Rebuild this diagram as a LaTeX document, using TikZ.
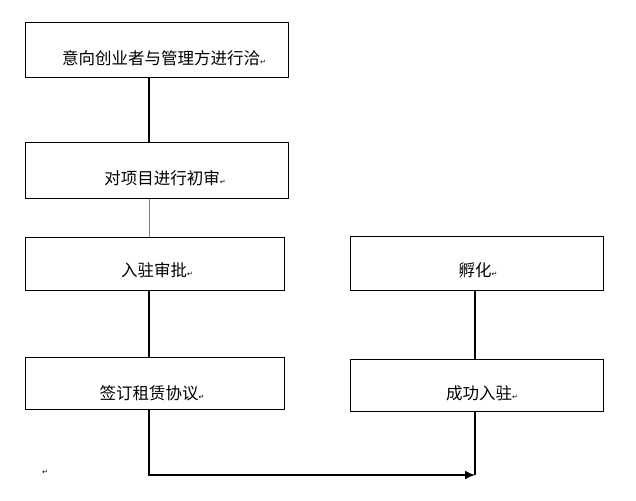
\documentclass[tikz,border=0pt]{standalone}
\usepackage{fontspec}
\usetikzlibrary{arrows.meta}
\newfontfamily\cjk{Noto Sans CJK SC}
\newfontfamily\djfont{DejaVu Sans}
\newcommand{\rmark}{{\djfont\fontsize{7}{7}\selectfont ↵}}
\begin{document}
\begin{tikzpicture}[x=1pt,y=-1pt,
  box/.style={draw,line width=0.8pt,inner sep=0pt,anchor=north west},
  lbl/.style={font=\cjk\fontsize{16.5}{18}\selectfont},
  thick line/.style={line width=1.6pt},
  thin line/.style={line width=0.6pt,draw=gray}]
\useasboundingbox (0,0) rectangle (636,500);
\node[box,minimum width=263pt,minimum height=55pt] (b1) at (25,22) {};
\node[box,minimum width=263pt,minimum height=56pt] (b2) at (25,142) {};
\node[box,minimum width=259pt,minimum height=53pt] (b3) at (25,237) {};
\node[box,minimum width=259pt,minimum height=52pt] (b4) at (25,357) {};
\node[box,minimum width=253pt,minimum height=54pt] (b5) at (350,236) {};
\node[box,minimum width=253pt,minimum height=52pt] (b6) at (350,359) {};
\node[lbl] (t1) at (164,58) {意向创业者与管理方进行洽\rmark};
\node[lbl] (t2) at (165,178) {对项目进行初审\rmark};
\node[lbl] (t3) at (157,270) {入驻审批\rmark};
\node[lbl] (t4) at (152,393) {签订租赁协议\rmark};
\node[lbl] (t5) at (478,270) {孵化\rmark};
\node[lbl] (t6) at (482,393) {成功入驻\rmark};
\node (rm) at (45,472) {\rmark};
\coordinate (c1) at (149,475);
\coordinate (c2) at (475,475);
\draw[thick line] (b1.south west -| c1) -- (b2.north west -| c1);
\draw[thin line] (b2.south west -| c1) -- (b3.north west -| c1);
\draw[thick line] (b3.south west -| c1) -- (b4.north west -| c1);
\draw[thick line] (b5.south west -| c2) -- (b6.north west -| c2);
\draw[thick line] (b6.south west -| c2) -- (c2);
\draw[thick line,-{Latex[length=10pt,width=9pt]}] (b4.south west -| c1) -- (c1) -- (c2);
\end{tikzpicture}
\end{document}
